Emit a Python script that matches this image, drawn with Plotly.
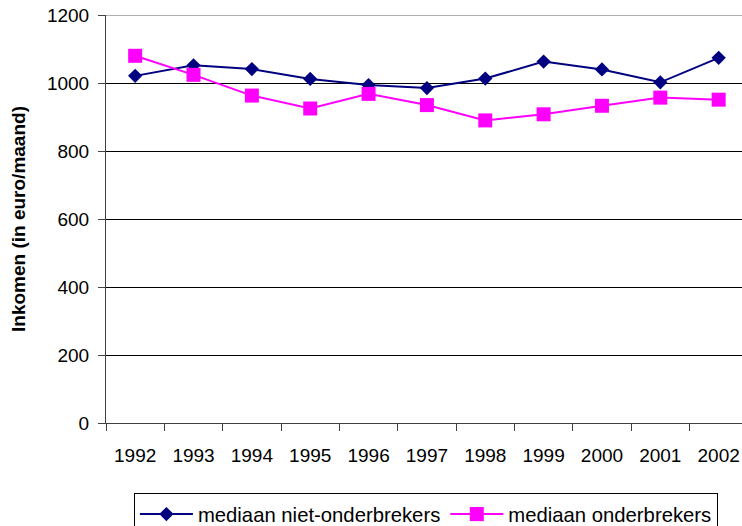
import plotly.graph_objects as go

years = ["1992", "1993", "1994", "1995", "1996", "1997", "1998", "1999", "2000", "2001", "2002"]
niet_onderbrekers = [1021, 1052, 1041, 1012, 994, 985, 1013, 1063, 1040, 1002, 1074]
onderbrekers = [1080, 1024, 963, 925, 968, 935, 890, 908, 933, 957, 951]

font_family = "Liberation Sans, Arial, sans-serif"

fig = go.Figure()
fig.add_trace(go.Scatter(
    x=years, y=niet_onderbrekers, name="mediaan niet-onderbrekers",
    mode="lines+markers",
    line=dict(color="#000080", width=2),
    marker=dict(symbol="diamond", size=11, color="#000080"),
))
fig.add_trace(go.Scatter(
    x=years, y=onderbrekers, name="mediaan onderbrekers",
    mode="lines+markers",
    line=dict(color="#FF00FF", width=2),
    marker=dict(symbol="square", size=14, color="#FF00FF"),
))

fig.update_layout(
    template="none",
    width=742, height=526,
    margin=dict(l=106, r=0, t=15, b=102.5, autoexpand=False),
    paper_bgcolor="white", plot_bgcolor="white",
    font=dict(family=font_family, size=19, color="black"),
    showlegend=True,
    legend=dict(
        orientation="h", x=0.503, xanchor="center", y=-0.1726, yanchor="top",
        bordercolor="black", borderwidth=1, bgcolor="white",
        font=dict(size=20.3), itemwidth=53,
        traceorder="normal",
    ),
    # top gridline (plotly omits the grid line at the very edge of the range)
    shapes=[dict(type="line", xref="paper", yref="y", x0=0, x1=1, y0=1200, y1=1200,
                 line=dict(color="#606060", width=1), layer="below")],
)
fig.update_xaxes(
    type="category", range=[-0.5, 10.4], automargin=False,
    showgrid=False, showline=True, linecolor="#404040", linewidth=1,
    ticks="outside", tickson="boundaries", ticklen=7, tickcolor="#404040",
    tickfont=dict(size=19), ticklabelstandoff=15,
)
fig.update_yaxes(
    range=[0, 1200], dtick=200, tick0=0, automargin=False,
    showgrid=True, gridcolor="black", gridwidth=1,
    showline=True, linecolor="#404040", linewidth=1,
    ticks="outside", ticklen=7, tickcolor="#404040",
    tickfont=dict(size=19), ticklabelstandoff=5, ticklabeloverflow="allow",
    zeroline=False,
    title=dict(text="<b>Inkomen (in euro/maand)</b>", font=dict(size=19), standoff=16),
)

fig.write_html(
    "out.html",
    config={"displayModeBar": False},
    post_script="document.body.style.margin='0';document.body.style.overflow='hidden';",
)
